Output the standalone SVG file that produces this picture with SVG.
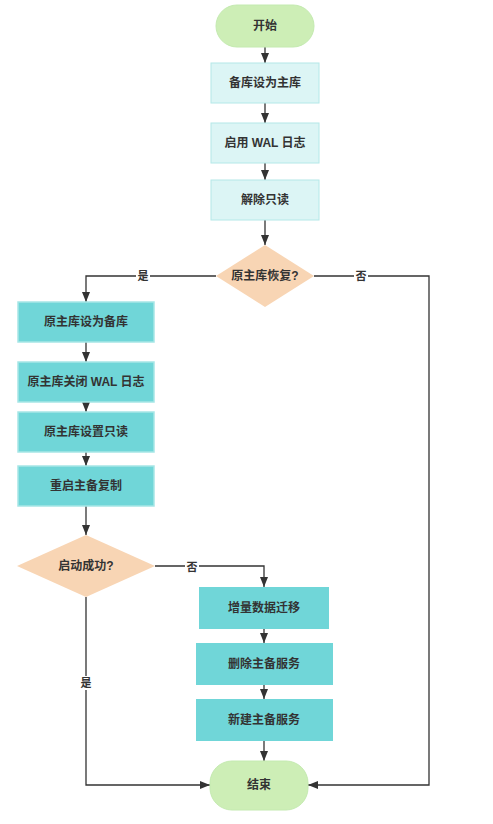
<svg xmlns="http://www.w3.org/2000/svg" width="493" height="824" viewBox="0 0 493 824">
<style>
text{font-family:"Liberation Sans","Noto Sans CJK SC",sans-serif;font-size:12px;font-weight:bold;fill:#333;text-anchor:middle;dominant-baseline:central}
.term{fill:#cdeeb6;stroke:#c4eab0;stroke-width:1}
.light{fill:#dcf5f5;stroke:#b4e8e8;stroke-width:1}
.dark{fill:#70d6d8;stroke:#a6e6e6;stroke-width:1.5}
.dec{fill:#f8d5b4}
.edge{fill:none;stroke:#333;stroke-width:1.3}
.lbl{font-size:11px}
.lbg{fill:#fff}
</style>
<defs>
<marker id="ah" viewBox="0 0 10 8" refX="10" refY="4" markerWidth="10" markerHeight="8" markerUnits="userSpaceOnUse" orient="auto">
<path d="M0,0 L10,4 L0,8 z" fill="#333"/>
</marker>
</defs>
<g id="connectors">
<path class="edge" d="M265,47 V63" marker-end="url(#ah)"/>
<path class="edge" d="M265,103 V123" marker-end="url(#ah)"/>
<path class="edge" d="M265,163 V180" marker-end="url(#ah)"/>
<path class="edge" d="M265,220 V245" marker-end="url(#ah)"/>
<path class="edge" d="M216,276 H86 V302" marker-end="url(#ah)"/>
<rect class="lbg" x="136" y="269" width="14" height="14"/>
<text class="lbl" x="143" y="276">是</text>
<path class="edge" d="M314,276 H429 V785 H308" marker-end="url(#ah)"/>
<rect class="lbg" x="354" y="269" width="14" height="14"/>
<text class="lbl" x="361" y="276">否</text>
<path class="edge" d="M86,342 V362" marker-end="url(#ah)"/>
<path class="edge" d="M86,402 V412" marker-end="url(#ah)"/>
<path class="edge" d="M86,452 V466" marker-end="url(#ah)"/>
<path class="edge" d="M86,506 V535" marker-end="url(#ah)"/>
<path class="edge" d="M155,566 H264 V587" marker-end="url(#ah)"/>
<rect class="lbg" x="185" y="560" width="14" height="14"/>
<text class="lbl" x="192" y="567">否</text>
<path class="edge" d="M86,597 V785 H210" marker-end="url(#ah)"/>
<rect class="lbg" x="79" y="676" width="14" height="14"/>
<text class="lbl" x="86" y="683">是</text>
<path class="edge" d="M264,629 V643" marker-end="url(#ah)"/>
<path class="edge" d="M264,685 V699" marker-end="url(#ah)"/>
<path class="edge" d="M264,741 V761" marker-end="url(#ah)"/>
</g>
<g id="start"><rect class="term" x="216" y="5" width="98" height="42" rx="21"/><text x="265" y="26">开始</text></g>
<g id="n1"><rect class="light" x="211" y="63" width="108" height="40"/><text x="265" y="83">备库设为主库</text></g>
<g id="n2"><rect class="light" x="211" y="123" width="108" height="40"/><text x="265" y="143">启用 WAL 日志</text></g>
<g id="n3"><rect class="light" x="211" y="180" width="108" height="40"/><text x="265" y="200">解除只读</text></g>
<g id="d1"><polygon class="dec" points="265,245 314,276 265,307 216,276"/><text x="265" y="276">原主库恢复?</text></g>
<g id="l1"><rect class="dark" x="18" y="302" width="136" height="40"/><text x="86" y="322">原主库设为备库</text></g>
<g id="l2"><rect class="dark" x="18" y="362" width="136" height="40"/><text x="86" y="382">原主库关闭 WAL 日志</text></g>
<g id="l3"><rect class="dark" x="18" y="412" width="136" height="40"/><text x="86" y="432">原主库设置只读</text></g>
<g id="l4"><rect class="dark" x="18" y="466" width="136" height="40"/><text x="86" y="486">重启主备复制</text></g>
<g id="d2"><polygon class="dec" points="86,535 155,566 86,597 17,566"/><text x="86" y="566">启动成功?</text></g>
<g id="r1"><rect x="199" y="587" width="130" height="42" fill="#70d6d8"/><text x="264" y="608">增量数据迁移</text></g>
<g id="r2"><rect x="196" y="643" width="137" height="42" fill="#70d6d8"/><text x="264" y="664">删除主备服务</text></g>
<g id="r3"><rect x="196" y="699" width="137" height="42" fill="#70d6d8"/><text x="264" y="720">新建主备服务</text></g>
<g id="end"><rect class="term" x="210" y="761" width="98" height="49" rx="22"/><text x="259" y="785">结束</text></g>
</svg>
